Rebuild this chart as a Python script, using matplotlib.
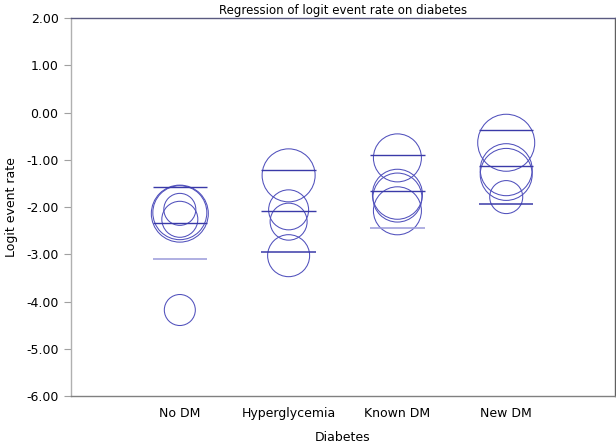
import matplotlib
matplotlib.use("Agg")
import matplotlib.pyplot as plt

# groups on the x axis
groups = ['No DM', 'Hyperglycemia', 'Known DM', 'New DM']

# one entry per study: group index, logit event rate, bubble weight (diameter)
study_group = [0, 0, 0, 0, 0, 1, 1, 1, 1, 2, 2, 2, 2, 3, 3, 3, 3]
study_logit = [-2.14, -2.12, -2.05, -2.26, -4.18,
               -1.33, -2.06, -2.31, -3.03,
               -0.96, -1.73, -1.80, -2.08,
               -0.64, -1.21, -1.31, -1.79]
study_weight = [57, 54, 32, 36, 31,
                53, 40, 37, 42,
                48, 50, 49, 48,
                57, 52, 52, 33]

# regression estimate and interval per group
fit_est = [-2.33, -2.09, -1.67, -1.14]
fit_upper = [-1.57, -1.21, -0.90, -0.37]
fit_lower = [-3.10, -2.96, -2.45, -1.93]

yticks = [2, 1, 0, -1, -2, -3, -4, -5, -6]

circle_col = '#5050bc'
line_col = '#3a3aa8'
faint_col = ['#9a9ada', line_col, '#9a9ada', line_col]

fig = plt.figure(figsize=(6.16, 4.46), dpi=100)
ax = fig.add_axes([0.1153, 0.1121, 0.8831, 0.8475])

xs = [g + 1 for g in study_group]
sizes = [(w * 0.72) ** 2 for w in study_weight]
ax.scatter(xs, study_logit, s=sizes, facecolors='none', edgecolors=circle_col,
           linewidths=0.75, zorder=3)

for i in range(len(groups)):
    x = i + 1
    ax.hlines([fit_upper[i], fit_est[i]], x - 0.25, x + 0.25, colors=line_col,
              linewidth=1.0, zorder=4)
    ax.hlines(fit_lower[i], x - 0.25, x + 0.25, colors=faint_col[i],
              linewidth=1.1, zorder=4)

ax.set_xlim(0, 5)
ax.set_ylim(-6, 2)
ax.set_xticks(range(1, len(groups) + 1))
ax.set_xticklabels(groups, fontsize=9)
ax.tick_params(axis='x', length=0, pad=8)
ax.set_yticks(yticks)
ax.set_yticklabels(['%.2f' % v for v in yticks], fontsize=9)
ax.tick_params(axis='y', length=5, color='#a0a0a0', pad=4)

ax.spines['left'].set_color('#b0b0b0')
ax.spines['bottom'].set_color('#808080')
ax.spines['top'].set_color('#5a5a80')
ax.spines['right'].set_color('#606060')
for s in ax.spines.values():
    s.set_linewidth(1.0)

ax.set_title('Regression of logit event rate on diabetes', fontsize=8.5, pad=3)
ax.set_xlabel('Diabetes', fontsize=9, labelpad=8)
ax.set_ylabel('Logit event rate', fontsize=9, labelpad=6)

fig.savefig('out.png', dpi=100)
